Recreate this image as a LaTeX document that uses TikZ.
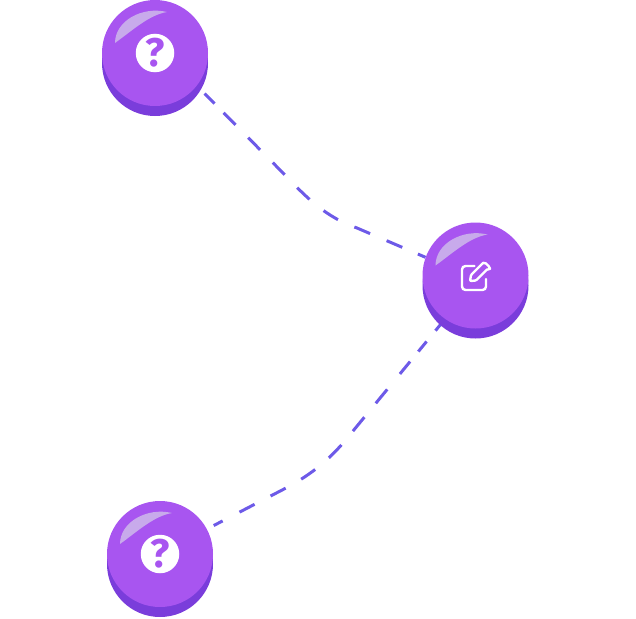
\documentclass[tikz,border=0pt]{standalone}
\usepackage{fontspec}
\setmainfont{Fira Sans}
\usetikzlibrary{positioning,calc,backgrounds,shapes.geometric}
\definecolor{ballfill}{HTML}{A855F0}
\definecolor{ballshadow}{HTML}{7A3DDB}
\definecolor{ballshine}{HTML}{C8AAEB}
\definecolor{linkcolor}{HTML}{6D5AE8}
\begin{document}
\begin{tikzpicture}[x=1pt,y=-1pt,
ball/.style={ellipse,fill=ballfill,inner sep=0pt,minimum width=106pt,minimum height=106pt},
ballbase/.style={ellipse,fill=ballshadow,inner sep=0pt,minimum width=106pt,minimum height=106pt,yshift=-10pt},
helpdot/.style={circle,fill=white,inner sep=0pt,minimum size=38.5pt,text=ballfill,font=\bfseries\fontsize{40}{40}\selectfont},
link/.style={draw=linkcolor,line width=3pt}]
\useasboundingbox (0,0) rectangle (636,618);
\foreach \ballname/\ballx/\bally in {ballA/155/53,ballB/475.5/275.5,ballC/160/554}{
\node[ballbase] at (\ballx,\bally) {};
\node[ball] (\ballname) at (\ballx,\bally) {};
\fill[ballshine] (\ballname.center) ++(-40,-10) .. controls +(0,-22) and +(-25,-6) .. ++(52,-31) .. controls +(-18,3) and +(18,-13) .. ++(-52,31) -- cycle;
}
\node[helpdot] (helpA) at (ballA) {?};
\node[helpdot] (helpC) at (ballC) {?};
% edit icon
\coordinate (editbox) at (ballB);
\draw[white,line width=2.4pt,rounded corners=3.5pt,line cap=round] ($(editbox)+(-1,-9.5)$) -- ++(-12.5,0) -- ++(0,24) -- ++(24,0) -- ++(0,-11);
\draw[white,line width=2.4pt,line join=round,rounded corners=1pt] ($(editbox)+(-5.5,5.5)$) -- ++(1,-6) -- ++(11.5,-11.5) .. controls +(3,-2.5) and +(6,2) .. ++(5,5.5) -- ++(-11.5,11.5) -- cycle;
\coordinate (bendA) at (285,175);
\coordinate (bendB) at (357,228);
\coordinate (bendC) at (353,431);
\coordinate (bendD) at (286,488);
\begin{scope}[on background layer]
\draw[link,dash pattern=on 0pt off 11pt on 14pt off 13pt on 17pt off 18pt on 17pt off 18pt on 17pt off 18pt on 17pt off 18pt on 17pt off 18pt on 17pt off 18pt on 17pt off 17pt on 20pt off 20pt] (ballA.-38) -- (bendA) .. controls (305,196) and (325,217) .. (bendB) -- (ballB.160);
\draw[link,dash pattern=on 15pt off 14pt on 13pt off 13pt on 16pt off 20pt on 18pt off 18pt on 18pt off 18pt on 18pt off 18pt on 17pt off 18pt on 17pt off 18pt on 17pt off 19pt on 10pt off 30pt] (ballB.-125) -- (bendC) .. controls (338,450) and (320,470) .. (bendD) -- (ballC.28);
\end{scope}
\end{tikzpicture}
\end{document}
